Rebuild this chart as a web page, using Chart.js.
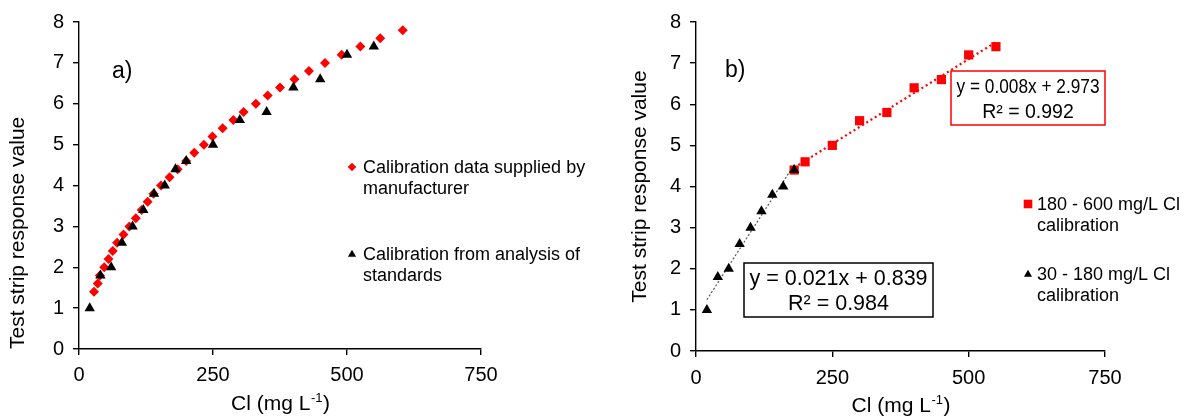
<!DOCTYPE html>
<html><head><meta charset="utf-8">
<script src="https://cdn.jsdelivr.net/npm/chart.js@4.4.0/dist/chart.umd.min.js"></script>
<style>
html,body{margin:0;padding:0;background:#fff;}
#wrap{position:relative;width:1186px;height:417px;overflow:hidden;background:#fff;}
#c1{position:absolute;left:0;top:0;}
#c2{position:absolute;left:600px;top:0;}
</style></head><body>
<div id="wrap"><canvas id="c1" width="600" height="417"></canvas><canvas id="c2" width="586" height="417"></canvas></div>
<script>
// ---- data ----
const manufacturerCl = [28,35,39,47,55,63,71,83,94,106,117,128,139,153,169,184,200,215,233,249,268,288,307,330,352,375,402,429,459,490,525,562,604];
const manufacturerResponse = [1.4,1.6,1.8,2.0,2.2,2.4,2.6,2.8,3.0,3.2,3.4,3.6,3.8,4.0,4.2,4.4,4.6,4.8,5.0,5.2,5.4,5.6,5.8,6.0,6.2,6.4,6.6,6.8,7.0,7.2,7.4,7.6,7.8];
const standardsCl = [20,40,60,80,100,120,140,160,180,200,250,300,350,400,450,500,550];
const standardsResponse = [1.0,1.8,2.0,2.6,3.0,3.4,3.8,4.0,4.4,4.6,5.0,5.6,5.8,6.4,6.6,7.2,7.4];
const highRangeCl = [180,200,250,300,350,400,450,500,550];
const highRangeResponse = [4.4,4.6,5.0,5.6,5.8,6.4,6.6,7.2,7.4];
const lowRangeCl = [20,40,60,80,100,120,140,160,180];
const lowRangeResponse = [1.0,1.8,2.0,2.6,3.0,3.4,3.8,4.0,4.4];
const xTickValues = [0,250,500,750];
const yTickValues = [0,1,2,3,4,5,6,7,8];
const panelLabels = ['a)','b)'];
const legendA = [['Calibration data supplied by','manufacturer'],['Calibration from analysis of','standards']];
const legendB = [['180 - 600 mg/L Cl','calibration'],['30 - 180 mg/L Cl','calibration']];
const highEqText = ['y = 0.008x + 2.973','R\u00B2 = 0.992'];
const lowEqText = ['y = 0.021x + 0.839','R\u00B2 = 0.984'];
const yTitle = 'Test strip response value';

const FONT = '"Liberation Sans", Arial, sans-serif';
function pts(xs, ys){ return xs.map((x,i)=>({x:x, y:ys[i]})); }
function fitLine(xs, ys){
  const n=xs.length, mx=xs.reduce((a,b)=>a+b,0)/n, my=ys.reduce((a,b)=>a+b,0)/n;
  let sxy=0,sxx=0; xs.forEach((x,i)=>{sxy+=(x-mx)*(ys[i]-my); sxx+=(x-mx)*(x-mx);});
  const m=sxy/sxx, b=my-m*mx; const x0=Math.min(...xs), x1=Math.max(...xs);
  return [{x:x0,y:m*x0+b},{x:x1,y:m*x1+b}];
}

function axes(yAxisWidth, xAxisHeight, titlePad, titleAlign, xPad){
  return {
    x: {type:'linear', min:0, max:750,
      afterBuildTicks: s => { s.ticks = xTickValues.map(v=>({value:v})); },
      afterFit: s => { s.height = xAxisHeight; },
      ticks:{font:{family:FONT,size:20}, color:'#000', padding:xPad, maxRotation:0},
      grid:{drawOnChartArea:false, drawTicks:true, tickLength:6, color:'#000', lineWidth:1.4},
      border:{color:'#000', width:1.4}
    },
    y: {type:'linear', min:0, max:8,
      afterBuildTicks: s => { s.ticks = yTickValues.map(v=>({value:v})); },
      afterFit: s => { s.width = yAxisWidth; },
      ticks:{font:{family:FONT,size:20}, color:'#000', padding:9},
      grid:{drawOnChartArea:false, drawTicks:true, tickLength:6, color:'#000', lineWidth:1.4},
      border:{color:'#000', width:1.4},
      title:{display:true, text:yTitle, align:titleAlign, font:{family:FONT,size:21}, color:'#000', padding:{top:titlePad,bottom:0}}
    }
  };
}

function drawMarker(ctx, style, x, y, r, color){
  ctx.save(); ctx.fillStyle=color; ctx.beginPath();
  if(style==='rectRot'){ ctx.moveTo(x,y-r); ctx.lineTo(x+r,y); ctx.lineTo(x,y+r); ctx.lineTo(x-r,y); }
  else if(style==='rect'){ ctx.rect(x-r,y-r,2*r,2*r); }
  else { ctx.moveTo(x,y-r); ctx.lineTo(x+r*0.95,y+r*0.65); ctx.lineTo(x-r*0.95,y+r*0.65); }
  ctx.closePath(); ctx.fill(); ctx.restore();
}
function drawXTitle(ctx, a, baseline){
  const main='Cl (mg L', sup='-1', end=')';
  const f1='21px '+FONT, f2='13px '+FONT;
  ctx.save(); ctx.fillStyle='#000'; ctx.textBaseline='alphabetic'; ctx.textAlign='left';
  ctx.font=f1; const w1=ctx.measureText(main).width, w3=ctx.measureText(end).width;
  ctx.font=f2; const w2=ctx.measureText(sup).width;
  let x=(a.left+a.right)/2-(w1+w2+w3)/2;
  ctx.font=f1; ctx.fillText(main,x,baseline); x+=w1;
  ctx.font=f2; ctx.fillText(sup,x+0.5,baseline-8); x+=w2+1;
  ctx.font=f1; ctx.fillText(end,x,baseline);
  ctx.restore();
}
function drawLegend(ctx, items, styles, colors, mx, tx, baselines){
  ctx.save(); ctx.fillStyle='#000'; ctx.font='18px '+FONT; ctx.textBaseline='alphabetic'; ctx.textAlign='left';
  items.forEach((lines,i)=>{
    const b=baselines[i];
    drawMarker(ctx, styles[i], mx, b-6, 4.3, colors[i]);
    ctx.fillStyle='#000';
    ctx.fillText(lines[0], tx, b); ctx.fillText(lines[1], tx, b+21);
  });
  ctx.restore();
}
function drawEqBox(ctx, lines, box, color, fontSize, maxW, baselines){
  ctx.save();
  ctx.fillStyle='#fff'; ctx.fillRect(box[0],box[1],box[2],box[3]);
  ctx.strokeStyle=color; ctx.lineWidth=1.5; ctx.strokeRect(box[0],box[1],box[2],box[3]);
  ctx.fillStyle='#000'; ctx.font=fontSize+'px '+FONT; ctx.textAlign='center'; ctx.textBaseline='alphabetic';
  const cx=box[0]+box[2]/2;
  ctx.fillText(lines[0], cx, baselines[0], maxW);
  ctx.fillText(lines[1], cx, baselines[1], maxW);
  ctx.restore();
}

const plugA = {id:'plugA', afterDraw(chart){
  const ctx=chart.ctx, a=chart.chartArea;
  ctx.save(); ctx.fillStyle='#000'; ctx.font='23px '+FONT; ctx.fillText(panelLabels[0],112,78); ctx.restore();
  drawXTitle(ctx, a, 410);
  drawLegend(ctx, legendA, ['rectRot','triangle'], ['#ff0000','#000'], 352, 363, [173,260]);
}};
const plugB = {id:'plugB', afterDraw(chart){
  const ctx=chart.ctx, a=chart.chartArea;
  ctx.save(); ctx.fillStyle='#000'; ctx.font='23px '+FONT; ctx.fillText(panelLabels[1],125,77); ctx.restore();
  drawXTitle(ctx, a, 412);
  drawLegend(ctx, legendB, ['rect','triangle'], ['#ff0000','#000'], 428, 437, [210,280]);
  drawEqBox(ctx, highEqText, [351,71,154,54], '#ff0000', 19.5, 143, [93,118]);
  drawEqBox(ctx, lowEqText, [144,263,189,54], '#000', 21.5, 182, [285,310]);
}};

new Chart(document.getElementById('c1'), {
  type:'scatter',
  data:{datasets:[
    {label:'standards', data:pts(standardsCl,standardsResponse), pointStyle:'triangle', pointRadius:6, backgroundColor:'#000', borderColor:'#000', borderWidth:0},
    {label:'manufacturer', data:pts(manufacturerCl,manufacturerResponse), pointStyle:'rectRot', pointRadius:5, backgroundColor:'#ff0000', borderColor:'#ff0000', borderWidth:0}
  ]},
  options:{responsive:false, animation:false, events:[],
    layout:{padding:{top:22,right:119,bottom:0,left:0}},
    plugins:{legend:{display:false}, tooltip:{enabled:false}},
    scales:axes(79,68,6,'start',8)
  },
  plugins:[plugA]
});

new Chart(document.getElementById('c2'), {
  type:'scatter',
  data:{datasets:[
    {label:'30 - 180', data:pts(lowRangeCl,lowRangeResponse), pointStyle:'triangle', pointRadius:6, backgroundColor:'#000', borderColor:'#000', borderWidth:0},
    {label:'180 - 600', data:pts(highRangeCl,highRangeResponse), pointStyle:'rect', pointRadius:6.5, backgroundColor:'#ff0000', borderColor:'#ff0000', borderWidth:0},
    {label:'low fit', data:fitLine(lowRangeCl,lowRangeResponse), showLine:true, pointRadius:0, borderColor:'#555', borderWidth:1.2, borderDash:[2,2]},
    {label:'high fit', data:fitLine(highRangeCl,highRangeResponse), showLine:true, pointRadius:0, borderColor:'#ff0000', borderWidth:2.2, borderDash:[2,3]}
  ]},
  options:{responsive:false, animation:false, events:[],
    layout:{padding:{top:22,right:81,bottom:0,left:0}},
    plugins:{legend:{display:false}, tooltip:{enabled:false}},
    scales:axes(96,66,28,'center',9)
  },
  plugins:[plugB]
});
</script>
</body></html>
